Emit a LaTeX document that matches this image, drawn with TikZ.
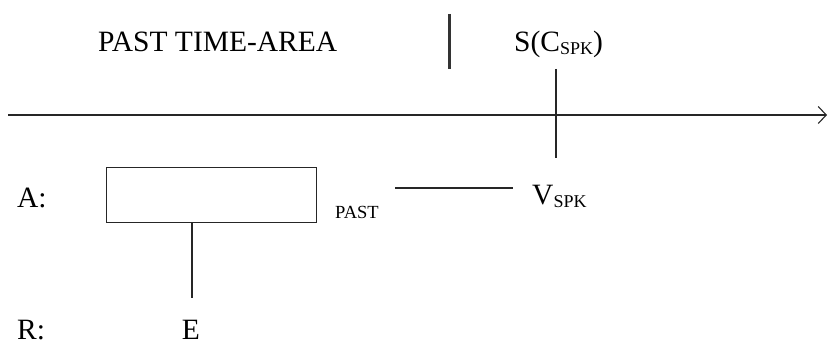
\documentclass[tikz,border=0pt]{standalone}
\usepackage{fontspec}
\setmainfont{Liberation Serif}
\usetikzlibrary{arrows.meta}
\newcommand{\spksub}{\raisebox{-3pt}{\fontsize{18}{20}\selectfont SPK}}
\begin{document}
\begin{tikzpicture}[x=1pt,y=-1pt,
  lbl/.style={inner sep=0pt,anchor=base west,font=\fontsize{29.5}{32}\selectfont},
  small/.style={inner sep=0pt,anchor=base west,font=\fontsize{18.5}{20}\selectfont},
  ln/.style={line width=1.1pt,black!85}]
\useasboundingbox (0,0) rectangle (828,347);
% top labels
\node[lbl] (title) at (98,52) {PAST TIME-AREA};
\coordinate (bartop) at (449,14);
\coordinate (barbot) at (449,69);
\draw[line width=3pt,black!80] (bartop) -- (barbot);
\node[lbl] (S) at (514,52) {S(C\spksub)};
% axis
\coordinate (axL) at (8,115);
\coordinate (axR) at (827,115);
\draw[ln,-{Straight Barb[length=8pt,width=17pt]}] (axL) -- (axR);
\coordinate (tickT) at (556,69);
\coordinate (tickB) at (556,158);
\draw[ln] (tickT) -- (tickB);
% A row
\node[lbl] (A) at (17,208) {A:};
\node[draw,ln,minimum width=210pt,minimum height=55pt,inner sep=0pt,anchor=north west] (box) at (106,167) {};
\node[small] (past) at (335,219) {PAST};
\coordinate (l1) at (395,188);
\coordinate (l2) at (513,188);
\draw[ln] (l1) -- (l2);
\node[lbl] (V) at (532,205) {V\spksub};
% R row
\node[lbl] (R) at (17,340) {R:};
\node[lbl,anchor=base] (E) at (191,340) {E};
\coordinate (eTop) at (192,298);
\draw[ln] (box.south -| eTop) -- (eTop);
\end{tikzpicture}
\end{document}
